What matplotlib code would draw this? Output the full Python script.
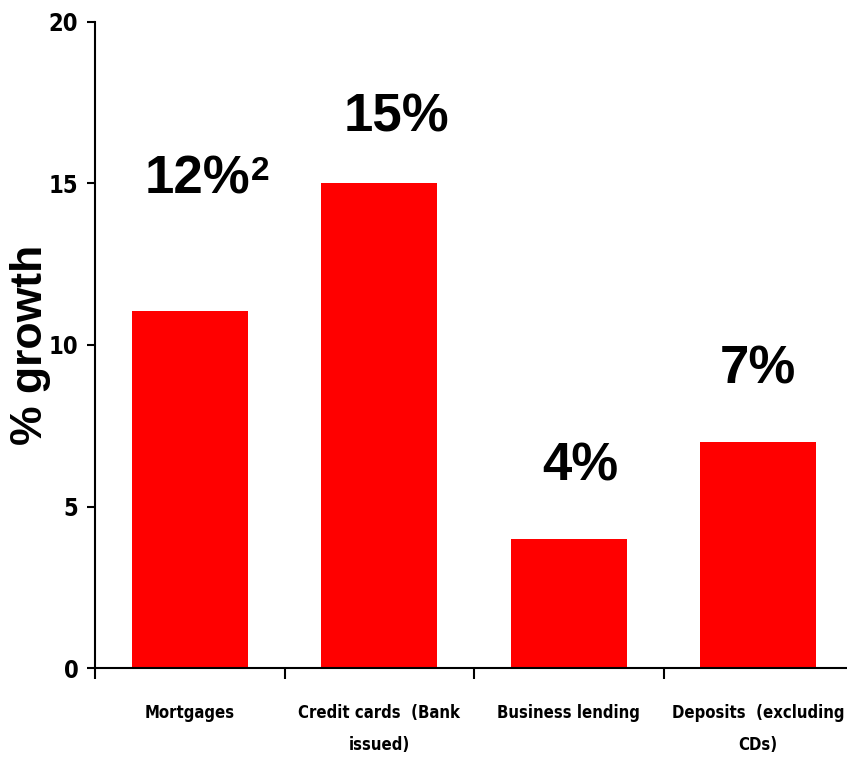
import numpy as np
import matplotlib
matplotlib.use("Agg")
import matplotlib.pyplot as plt

# growth figures per product line
categories = ["Mortgages", "Credit cards  (Bank\nissued)", "Business lending", "Deposits  (excluding\nCDs)"]
growth = [11.05, 15.0, 4.0, 7.0]
value_labels = ["12%", "15%", "4%", "7%"]
footnotes = ["2", "", "", ""]
label_heights = [14.7, 16.6, 5.8, 8.8]
label_dx = [0.04, 0.09, 0.06, 0.0]
yticks = [0, 5, 10, 15, 20]

fig = plt.figure(figsize=(8.47, 7.63), dpi=100)
ax = fig.add_axes([95 / 847, 95 / 763, 758 / 847, 646 / 763])

x = np.arange(len(categories))
ax.bar(x, growth, width=0.61, color="#ff0000", zorder=2)

for xi, txt, note, h, dx in zip(x, value_labels, footnotes, label_heights, label_dx):
    t = ax.text(xi + dx, h, txt, ha="center", va="baseline",
                fontsize=38, fontweight="bold", family="Liberation Sans")
    if note:
        # superscript footnote marker hung off the top-right of the value
        ax.annotate(note, xy=(1.01, 0.97), xycoords=t, ha="left", va="top",
                    fontsize=24, fontweight="bold", family="Liberation Sans")

ax.set_xlim(-0.5, 3.5)
ax.set_ylim(0, 20)
ax.set_yticks(yticks)
ax.set_yticklabels([str(t) for t in yticks], family="DejaVu Sans", fontstretch="condensed",
                   fontweight="bold", fontsize=17)

# category ticks sit on the boundaries, labels in the middle
ax.set_xticks(np.arange(-0.5, 3.6, 1.0))
ax.set_xticklabels([])
ax.set_xticks(x, minor=True)
ax.set_xticklabels(categories, minor=True, family="DejaVu Sans", fontstretch="condensed",
                   fontweight="bold", fontsize=12, linespacing=2.0, va="top")
ax.tick_params(axis="x", which="minor", length=0, pad=26)
ax.tick_params(axis="x", which="major", length=8, width=1.5, direction="out")
ax.tick_params(axis="y", length=6, width=1.5, direction="out", pad=6)

for side in ["top", "right"]:
    ax.spines[side].set_visible(False)
for side in ["left", "bottom"]:
    ax.spines[side].set_linewidth(1.5)

ax.set_ylabel("% growth", fontsize=32, fontweight="bold", family="Liberation Sans")
ax.yaxis.set_label_coords(-44 / 758, 0.5)

fig.savefig("out.png", dpi=100)
